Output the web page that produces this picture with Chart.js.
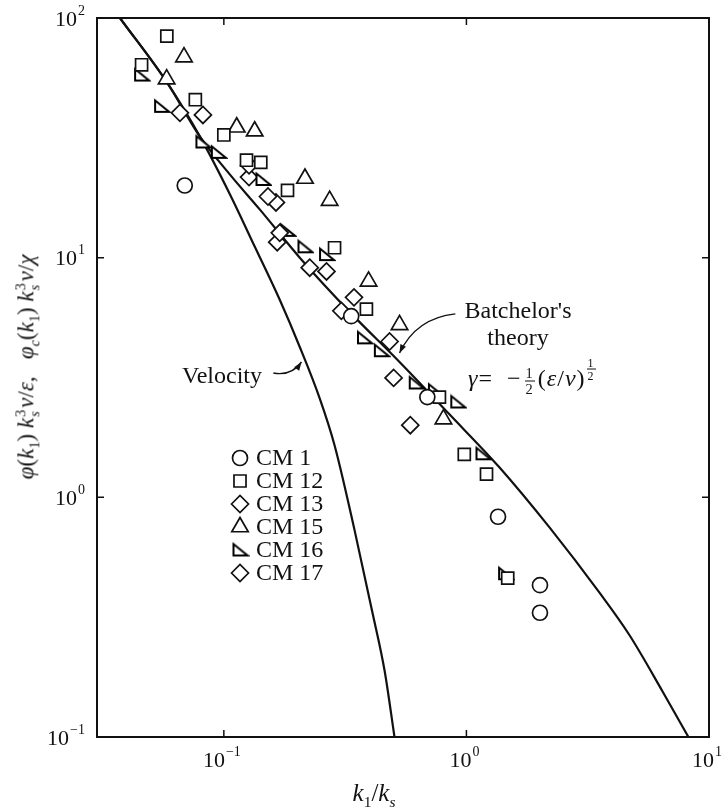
<!DOCTYPE html>
<html>
<head>
<meta charset="utf-8">
<script src="https://cdn.jsdelivr.net/npm/chart.js@4"></script>
<style>
body{margin:0;background:#fff;}
#wrap{position:relative;width:723px;height:808px;overflow:hidden;}
.t{position:absolute;font-family:"Liberation Serif",serif;font-size:24px;color:#111;white-space:nowrap;line-height:1;}
.t sub,.t sup{font-size:0.62em;}
.st{display:inline-block;vertical-align:middle;font-size:0.62em;line-height:0.95;text-align:left;margin:0 2px 0 1px;}
.st span{display:block;}
.fr{display:inline-block;vertical-align:middle;font-size:0.6em;line-height:1;text-align:center;margin:0 3px;}
.fr span{display:block;padding:0 1px;}
.fr span:first-child{border-bottom:1px solid #111;}
.fr.up{vertical-align:0.55em;font-size:0.5em;margin:0 1px;}
</style>
</head>
<body>
<div id="wrap">
<canvas id="c" width="723" height="808"></canvas>

<div class="t" id="ytitle" style="left:28px;top:367px;font-size:23px;transform:translate(-50%,-50%) rotate(-90deg);">
<i>φ</i>(<i>k</i><sub>1</sub>) <i>k</i><span class="st"><span>3</span><span><i>s</i></span></span><i>ν</i>/<i>ε</i>,&nbsp;&nbsp;&nbsp;<i>φ</i><sub><i>c</i></sub>(<i>k</i><sub>1</sub>) <i>k</i><span class="st"><span>3</span><span><i>s</i></span></span><i>ν</i>/<i>χ</i>
</div>
<div class="t" style="left:374px;top:795px;font-size:25px;transform:translate(-50%,-50%);"><i>k</i><sub>1</sub>/<i>k</i><sub><i>s</i></sub></div>
<div class="t" style="left:182px;top:375px;transform:translateY(-50%);">Velocity</div>
<div class="t" style="left:518px;top:310px;transform:translate(-50%,-50%);">Batchelor's</div>
<div class="t" style="left:518px;top:337px;transform:translate(-50%,-50%);">theory</div>
<div class="t" style="left:468px;top:376px;letter-spacing:1px;transform:translateY(-50%);"><i>γ</i>=&nbsp;&nbsp;−<span class="fr"><span>1</span><span>2</span></span>(<i>ε</i>/<i>ν</i>)<span class="fr up"><span>1</span><span>2</span></span></div>
</div>

<script>
// tick values
const xTicks = [0.1, 1, 10];
const xTickExp = ["−1", "0", "1"];
const yTicks = [0.1, 1, 10, 100];
const yTickExp = ["−1", "0", "1", "2"];

// theory curves
const batchelorK = [0.0373, 0.0582, 0.0797, 0.106, 0.1406, 0.2056, 0.330, 0.530, 0.851, 1.367, 2.20, 3.53, 4.69, 6.41, 8.27];
const batchelorPhi = [100, 54.0, 32.0, 22.2, 15.9, 10.0, 5.94, 3.67, 2.22, 1.335, 0.749, 0.401, 0.267, 0.156, 0.099];
const velocityK = [0.0373, 0.0582, 0.0797, 0.1059, 0.1342, 0.170, 0.2056, 0.248, 0.286, 0.346, 0.410, 0.460, 0.506];
const velocityPhi = [100, 54.0, 32.0, 18.4, 11.1, 6.67, 4.24, 2.60, 1.65, 0.728, 0.330, 0.189, 0.099];

// measured spectra
const cm1K = [0.069, 0.335, 0.69, 1.35, 2.01, 2.01];
const cm1Phi = [20.0, 5.7, 2.62, 0.83, 0.43, 0.33];
const cm12K = [0.0458, 0.0582, 0.0763, 0.100, 0.124, 0.142, 0.183, 0.286, 0.387, 0.774, 0.98, 1.21, 1.48];
const cm12Phi = [63.8, 84, 45.6, 32.5, 25.5, 25.0, 19.1, 11.0, 6.1, 2.62, 1.51, 1.25, 0.46];
const cm13K = [0.0659, 0.127, 0.152, 0.170, 0.226, 0.305, 0.482, 0.587];
const cm13Phi = [40.2, 24.3, 18.0, 12.7, 9.08, 6.0, 4.47, 2.0];
const cm15K = [0.0581, 0.0685, 0.113, 0.134, 0.216, 0.273, 0.395, 0.530, 0.804];
const cm15Phi = [55.6, 68.7, 35.0, 33.7, 21.4, 17.3, 7.96, 5.24, 2.12];
const cm16K = [0.0458, 0.0554, 0.082, 0.0949, 0.145, 0.183, 0.216, 0.265, 0.380, 0.446, 0.621, 0.745, 0.921, 1.17, 1.45];
const cm16Phi = [57.8, 42.8, 30.4, 27.5, 21.2, 13.0, 11.1, 10.3, 4.63, 4.09, 3.00, 2.80, 2.50, 1.52, 0.48];
const cm17K = [0.082, 0.127, 0.164, 0.166, 0.265, 0.344, 0.501];
const cm17Phi = [39.4, 21.7, 17.0, 11.6, 8.76, 6.83, 3.15];

const ink = "#111";

// right-angle triangle marker (not built in)
const rtri = document.createElement("canvas");
rtri.width = 19; rtri.height = 17;
(function(){
  const g = rtri.getContext("2d");
  g.lineWidth = 2; g.strokeStyle = "#000"; g.fillStyle = "#fff";
  g.lineJoin = "miter";
  g.beginPath(); g.moveTo(3, 2.5); g.lineTo(3, 14); g.lineTo(17, 14); g.closePath();
  g.fill(); g.stroke();
})();

function pts(xs, ys){ return xs.map((v, i) => ({x: v, y: ys[i]})); }

function marks(label, xs, ys, style, r){
  return {
    label: label, data: pts(xs, ys), order: 1,
    pointStyle: style, pointRadius: r, pointHoverRadius: r,
    pointBorderWidth: 1.7, borderColor: ink, pointBackgroundColor: "#fff", showLine: false
  };
}
function curve(label, xs, ys){
  return {
    label: label, data: pts(xs, ys), order: 2, showLine: true,
    borderColor: ink, borderWidth: 2.2, pointRadius: 0,
    cubicInterpolationMode: "monotone"
  };
}

const sets = [
  marks("CM 1", cm1K, cm1Phi, "circle", 7.5),
  marks("CM 12", cm12K, cm12Phi, "rect", 8.5),
  marks("CM 13", cm13K, cm13Phi, "rectRot", 8.5),
  marks("CM 15", cm15K, cm15Phi, "triangle", 9.5),
  marks("CM 16", cm16K, cm16Phi, rtri, 8),
  marks("CM 17", cm17K, cm17Phi, "rectRot", 8.5),
  curve("Batchelor", batchelorK, batchelorPhi),
  curve("Velocity", velocityK, velocityPhi)
];

function powLabel(ctx, exp, px, py, align){
  ctx.font = "22px 'Liberation Serif', serif";
  const w1 = ctx.measureText("10").width;
  ctx.font = "14px 'Liberation Serif', serif";
  const w2 = ctx.measureText(exp).width + 1;
  let x0 = align === "right" ? px - w1 - w2 : px - (w1 + w2) / 2;
  ctx.textAlign = "left"; ctx.textBaseline = "middle";
  ctx.font = "22px 'Liberation Serif', serif";
  ctx.fillText("10", x0, py);
  ctx.font = "14px 'Liberation Serif', serif";
  ctx.fillText(exp, x0 + w1 + 1, py - 9);
}

const frame = {
  id: "frame",
  afterDatasetsDraw(c){
    const ctx = c.ctx, a = c.chartArea, x = c.scales.x, y = c.scales.y;
    ctx.save();
    ctx.strokeStyle = ink; ctx.fillStyle = ink;
    ctx.lineWidth = 2;
    ctx.strokeRect(a.left, a.top, a.right - a.left, a.bottom - a.top);
    ctx.lineWidth = 1.5;
    ctx.beginPath();
    xTicks.forEach(v => {
      const p = x.getPixelForValue(v);
      ctx.moveTo(p, a.bottom); ctx.lineTo(p, a.bottom - 7);
      ctx.moveTo(p, a.top); ctx.lineTo(p, a.top + 7);
    });
    yTicks.forEach(v => {
      const p = y.getPixelForValue(v);
      ctx.moveTo(a.left, p); ctx.lineTo(a.left + 7, p);
      ctx.moveTo(a.right, p); ctx.lineTo(a.right - 7, p);
    });
    ctx.stroke();

    xTicks.forEach((v, i) => powLabel(ctx, xTickExp[i], x.getPixelForValue(v) - 2, a.bottom + 24, "center"));
    yTicks.forEach((v, i) => powLabel(ctx, yTickExp[i], a.left - 12, y.getPixelForValue(v) + 2, "right"));

    // arrows to the curves
    function arrow(t0, cp, t1){
      const p0 = [x.getPixelForValue(t0[0]), y.getPixelForValue(t0[1])];
      const pc = [x.getPixelForValue(cp[0]), y.getPixelForValue(cp[1])];
      const p1 = [x.getPixelForValue(t1[0]), y.getPixelForValue(t1[1])];
      ctx.lineWidth = 1.4;
      ctx.beginPath(); ctx.moveTo(p0[0], p0[1]); ctx.quadraticCurveTo(pc[0], pc[1], p1[0], p1[1]); ctx.stroke();
      const ang = Math.atan2(p1[1] - pc[1], p1[0] - pc[0]);
      ctx.beginPath();
      ctx.moveTo(p1[0], p1[1]);
      ctx.lineTo(p1[0] - 9 * Math.cos(ang - 0.35), p1[1] - 9 * Math.sin(ang - 0.35));
      ctx.lineTo(p1[0] - 9 * Math.cos(ang + 0.35), p1[1] - 9 * Math.sin(ang + 0.35));
      ctx.closePath(); ctx.fill();
    }
    arrow([0.160, 3.30], [0.19, 3.2], [0.209, 3.67]);
    arrow([0.90, 5.83], [0.62, 5.6], [0.53, 4.0]);

    // legend
    const names = ["CM 1", "CM 12", "CM 13", "CM 15", "CM 16", "CM 17"];
    names.forEach((n, i) => {
      const ds = sets[i];
      const ly = 458 + 23 * i;
      ctx.fillStyle = "#fff"; ctx.strokeStyle = ink; ctx.lineWidth = 1.7;
      Chart.helpers.drawPoint(ctx, {pointStyle: ds.pointStyle, radius: ds.pointRadius, rotation: 0, borderWidth: 1.7}, 240, ly);
      ctx.fillStyle = ink;
      ctx.font = "24px 'Liberation Serif', serif";
      ctx.textAlign = "left"; ctx.textBaseline = "middle";
      ctx.fillText(n, 256, ly + 1);
    });
    ctx.restore();
  }
};

new Chart(document.getElementById("c"), {
  type: "scatter",
  data: {datasets: sets},
  plugins: [frame],
  options: {
    responsive: false,
    animation: false,
    devicePixelRatio: 1,
    layout: {padding: {left: 0, top: 18, right: 14, bottom: 0}},
    plugins: {legend: {display: false}, tooltip: {enabled: false}},
    scales: {
      x: {
        type: "logarithmic", min: 0.03, max: 10,
        grid: {display: false}, border: {display: false},
        ticks: {display: false},
        afterFit: s => { s.height = 71; }
      },
      y: {
        type: "logarithmic", min: 0.1, max: 100,
        grid: {display: false}, border: {display: false},
        ticks: {display: false},
        afterFit: s => { s.width = 97; }
      }
    }
  }
});
</script>
</body>
</html>
